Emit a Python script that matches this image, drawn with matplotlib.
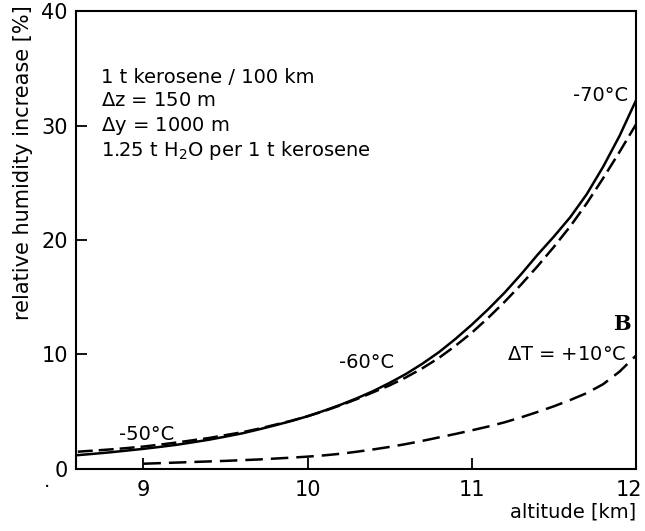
import numpy as np
import matplotlib
matplotlib.use("Agg")
import matplotlib.pyplot as plt
from matplotlib.transforms import ScaledTranslation

# altitude grid [km], 8.6 ... 12.0
alt = [8.6, 8.7, 8.8, 8.9, 9.0, 9.1, 9.2, 9.3, 9.4, 9.5, 9.6, 9.7,
       9.8, 9.9, 10.0, 10.1, 10.2, 10.3, 10.4, 10.5, 10.6, 10.7, 10.8,
       10.9, 11.0, 11.1, 11.2, 11.3, 11.4, 11.5, 11.6, 11.7, 11.8, 11.9, 12.0]
# relative humidity increase [%]
rh_solid = [1.2, 1.32, 1.45, 1.6, 1.75, 1.92, 2.1, 2.32, 2.55, 2.82, 3.1, 3.44,
            3.8, 4.18, 4.6, 5.08, 5.6, 6.17, 6.8, 7.52, 8.3, 9.2, 10.2,
            11.35, 12.6, 13.95, 15.4, 17.0, 18.7, 20.3, 22.0, 24.0, 26.4, 29.1, 32.2]
rh_dashed = [1.5, 1.6, 1.7, 1.82, 1.95, 2.12, 2.3, 2.5, 2.7, 2.95, 3.2, 3.5,
             3.85, 4.2, 4.6, 5.05, 5.55, 6.1, 6.7, 7.3, 8.0, 8.8, 9.7,
             10.75, 11.9, 13.2, 14.6, 16.1, 17.7, 19.4, 21.2, 23.2, 25.4, 27.7, 30.1]

# Fall B, delta T = +10 C (beginnt bei 9 km)
alt_b = [9.0, 9.1, 9.2, 9.3, 9.4, 9.5, 9.6, 9.7, 9.8, 9.9, 10.0, 10.1,
         10.2, 10.3, 10.4, 10.5, 10.6, 10.7, 10.8, 10.9, 11.0, 11.1, 11.2,
         11.3, 11.4, 11.5, 11.6, 11.7, 11.8, 11.9, 12.0]
rh_b = [0.45, 0.5, 0.55, 0.6, 0.65, 0.7, 0.76, 0.82, 0.9, 0.98, 1.07, 1.18,
        1.32, 1.5, 1.7, 1.92, 2.17, 2.45, 2.75, 3.05, 3.37, 3.7, 4.07,
        4.5, 4.97, 5.47, 6.02, 6.62, 7.4, 8.5, 9.9]

xticks = [9, 10, 11, 12]
yticks = [0, 10, 20, 30, 40]

plt.rcParams['font.family'] = 'DejaVu Sans'

fig = plt.figure(figsize=(6.45, 5.31), dpi=100)
ax = fig.add_axes([0.118, 0.117, 0.868, 0.862])

ax.plot(alt, rh_solid, color='black', lw=1.8)
ax.plot(alt, rh_dashed, color='black', lw=1.8, dashes=(6, 2.4))
ax.plot(alt_b, rh_b, color='black', lw=1.8, dashes=(7, 3.2))

ax.set_xlim(8.59, 12.0)
ax.set_ylim(0, 40)
ax.set_xticks(xticks)
ax.set_yticks(yticks)
ax.tick_params(direction='in', length=8, width=1.3, labelsize=15,
               top=False, right=False)
ax.tick_params(axis='x', pad=8)
ax.tick_params(axis='y', pad=6)
for s in ax.spines.values():
    s.set_linewidth(1.5)

# letzte Beschriftung "12" etwas nach links, sonst abgeschnitten
lbl = ax.get_xticklabels()[-1]
lbl.set_transform(lbl.get_transform() + ScaledTranslation(-5 / 72, 0, fig.dpi_scale_trans))

ax.set_xlabel('altitude [km]', fontsize=14, loc='right', labelpad=2)
ax.set_ylabel('relative humidity increase [%]', fontsize=15)
ax.yaxis.set_label_coords(-0.077, 0.67)

# Beschriftungen
ax.text(8.74, 34.2, '1 t kerosene / 100 km', fontsize=14, va='center')
ax.text(8.74, 32.2, r'$\Delta$z = 150 m', fontsize=14, va='center')
ax.text(8.74, 30.0, r'$\Delta$y = 1000 m', fontsize=14, va='center')
ax.text(8.74, 27.8, r'1.25 t H$_2$O per 1 t kerosene', fontsize=14, va='center')

ax.text(11.95, 32.6, '-70°C', fontsize=14, ha='right', va='center')
ax.text(10.36, 9.3, '-60°C', fontsize=14, ha='center', va='center')
ax.text(9.02, 3.0, '-50°C', fontsize=14, ha='center', va='center')
ax.text(11.94, 10.0, r'$\Delta$T = +10°C', fontsize=14, ha='right', va='center')
ax.text(11.97, 12.7, 'B', fontsize=15, fontweight='bold', family='serif',
        ha='right', va='center')
fig.text(0.068, 0.083, '.', fontsize=14)

fig.savefig('out.png', dpi=100)
